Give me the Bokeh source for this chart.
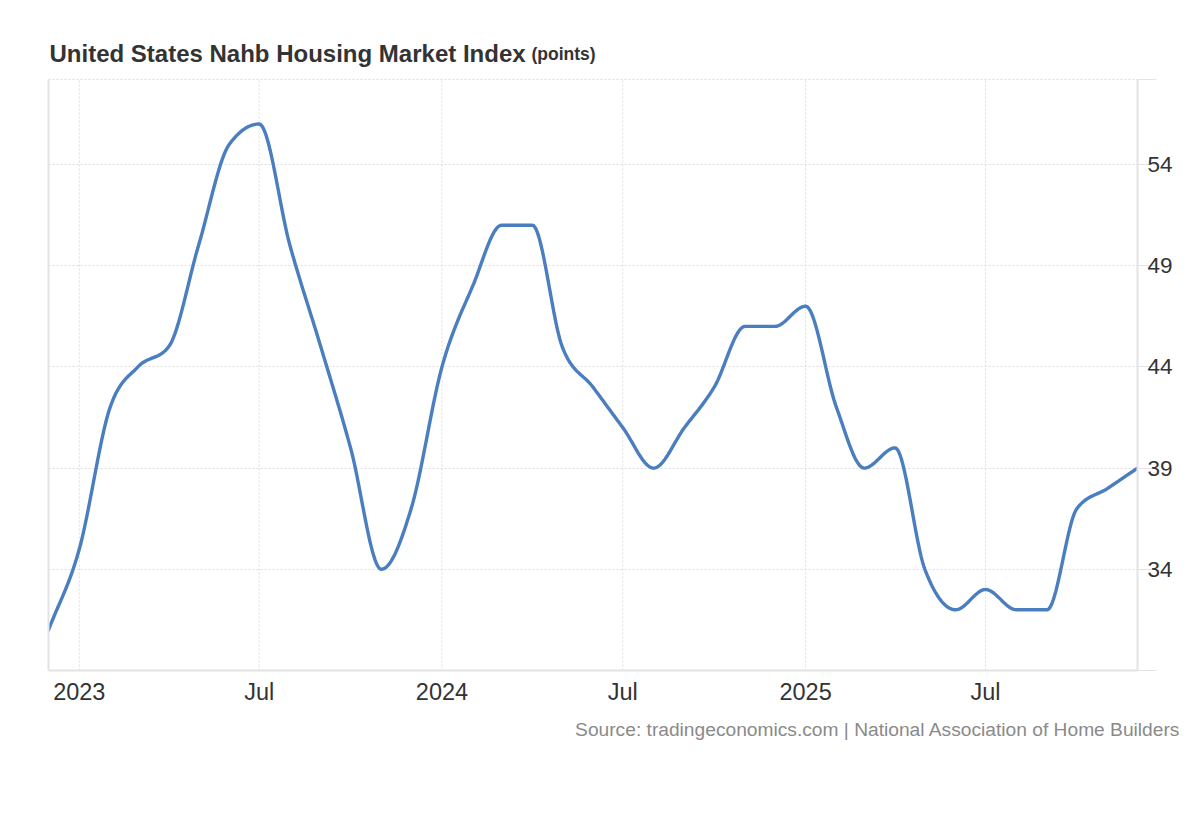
import numpy as np
import pandas as pd
from bokeh.plotting import figure
from bokeh.models import Range1d, LinearAxis, FixedTicker, Title, ColumnDataSource
from bokeh.core.properties import value
from bokeh.embed import file_html
from bokeh.resources import INLINE

# ---------------- data ----------------
months = ["2022-12", "2023-01", "2023-02", "2023-03", "2023-04", "2023-05", "2023-06",
          "2023-07", "2023-08", "2023-09", "2023-10", "2023-11", "2023-12",
          "2024-01", "2024-02", "2024-03", "2024-04", "2024-05", "2024-06",
          "2024-07", "2024-08", "2024-09", "2024-10", "2024-11", "2024-12",
          "2025-01", "2025-02", "2025-03", "2025-04", "2025-05", "2025-06",
          "2025-07", "2025-08", "2025-09", "2025-10", "2025-11", "2025-12"]
index_values = [31, 35, 42, 44, 45, 50, 55, 56, 50, 45, 40, 34, 37,
                44, 48, 51, 51, 45, 43, 41, 39, 41, 43, 46, 46,
                47, 42, 39, 40, 34, 32, 33, 32, 32, 37, 38, 39]
x_tick_dates = ["2023-01", "2023-07", "2024-01", "2024-07", "2025-01", "2025-07"]
x_tick_labels = ["2023", "Jul", "2024", "Jul", "2025", "Jul"]
y_tick_values = [34, 39, 44, 49, 54]
title_text = "United States Nahb Housing Market Index"
unit_text = "(points)"
source_text = "Source: tradingeconomics.com | National Association of Home Builders"

# ---------------- helpers ----------------
def to_ms(s):
    return float(pd.Timestamp(s + "-01").value // 10**6)

xs = np.array([to_ms(m) for m in months])
ys = np.array(index_values, dtype=float)

def monotone_path(x, y, n=24):
    """Smooth monotone (Steffen) cubic drawn through the data points."""
    h = np.diff(x)
    s = np.diff(y) / h
    m = np.zeros_like(y)
    for i in range(1, len(y) - 1):
        p = (s[i - 1] * h[i] + s[i] * h[i - 1]) / (h[i - 1] + h[i])
        m[i] = (np.sign(s[i - 1]) + np.sign(s[i])) * min(abs(s[i - 1]), abs(s[i]), 0.5 * abs(p))
    m[0] = s[0]
    m[-1] = s[-1]
    px, py = [], []
    for i in range(len(x) - 1):
        t = np.linspace(0, 1, n, endpoint=False)
        h00 = 2 * t**3 - 3 * t**2 + 1
        h10 = t**3 - 2 * t**2 + t
        h01 = -2 * t**3 + 3 * t**2
        h11 = t**3 - t**2
        px.extend(x[i] + t * h[i])
        py.extend(h00 * y[i] + h10 * h[i] * m[i] + h01 * y[i + 1] + h11 * h[i] * m[i + 1])
    px.append(x[-1]); py.append(y[-1])
    return px, py

cx, cy = monotone_path(xs, ys)

# ---------------- layout constants ----------------
FONT = "Liberation Sans"
GRID = "#dcdcdc"
AXIS = "#e3e3e3"
W, H = 1200, 770
LEFT, RIGHT, TOP, BOTTOM = 48, 63, 20, 100
frame_w = W - LEFT - RIGHT
frame_h = H - TOP - BOTTOM

y_bottom, y_plot_top = 29, 58.2          # value axis extent of the plot area
px_per_unit = 20.24
y_range_top = y_bottom + frame_h / px_per_unit   # extra room above for the title
x_start, x_end = to_ms("2022-12"), to_ms("2025-12")

def px_x(px):   # canvas px -> x data
    return x_start + (px - LEFT) / frame_w * (x_end - x_start)

def px_y(py):   # canvas px -> y data
    return y_bottom + (TOP + frame_h - py) / px_per_unit

# ---------------- figure ----------------
p = figure(width=W, height=H, x_axis_type="datetime", y_axis_location="right",
           output_backend="svg", toolbar_location=None,
           x_range=Range1d(x_start, x_end), y_range=Range1d(y_bottom, y_range_top))
p.min_border_left = LEFT
p.min_border_right = RIGHT
p.min_border_top = TOP
p.min_border_bottom = BOTTOM
p.outline_line_color = None
p.background_fill_color = "white"
p.border_fill_color = "white"

# x axis
xticks = [to_ms(d) for d in x_tick_dates]
xa = p.xaxis[0]
xa.ticker = FixedTicker(ticks=xticks)
xa.major_label_overrides = {t: lab for t, lab in zip(xticks, x_tick_labels)}
xa.major_tick_line_color = None
xa.minor_tick_line_color = None
xa.axis_line_color = AXIS
xa.axis_line_width = 2
xa.major_label_text_font = FONT
xa.major_label_text_font_size = "23.5px"
xa.major_label_text_color = "#333333"
xa.major_label_standoff = 2

# right y axis
ya = p.yaxis[0]
yticks = [y_bottom] + y_tick_values + [y_plot_top]
ya.ticker = FixedTicker(ticks=yticks)
ya.bounds = (y_bottom, y_plot_top)
ya.major_label_overrides = {y_bottom: "", y_plot_top: ""}
ya.major_tick_in = 0
ya.major_tick_out = 19
ya.major_tick_line_color = AXIS
ya.major_tick_line_width = 1
ya.minor_tick_line_color = None
ya.axis_line_color = AXIS
ya.axis_line_width = 2
ya.major_label_text_font = FONT
ya.major_label_text_font_size = "22.5px"
ya.major_label_text_color = "#333333"
ya.major_label_standoff = -9

# plain left axis line
la = LinearAxis(ticker=FixedTicker(ticks=[]), bounds=(y_bottom, y_plot_top),
                axis_line_color=AXIS, axis_line_width=2,
                major_tick_line_color=None, minor_tick_line_color=None,
                major_label_text_font_size="0px")
p.add_layout(la, "left")

# horizontal grid (dotted), vertical grid drawn only inside the plot area
yg = p.ygrid[0]
yg.grid_line_color = GRID
yg.grid_line_dash = "2 2"
yg.grid_line_width = 1
p.xgrid[0].visible = False
p.segment(x0=xticks, y0=[y_bottom] * len(xticks), x1=xticks, y1=[y_plot_top] * len(xticks),
          line_color=GRID, line_dash="2 2", line_width=1)

# line
src = ColumnDataSource(dict(x=cx, y=cy))
p.line("x", "y", source=src, line_color="#4a7ebe", line_width=3.4,
       line_join="round", line_cap="round")

# title + unit
p.text(x=[px_x(49)], y=[px_y(53)], text=[title_text], text_font=value(FONT),
       text_font_size="24px", text_font_style="bold", text_color="#333333",
       text_baseline="alphabetic", text_align="left")
p.text(x=[px_x(531)], y=[px_y(53)], text=[unit_text], text_font=value(FONT),
       text_font_size="17.5px", text_font_style="bold", text_color="#333333",
       text_baseline="alphabetic", text_align="left")

# source note
p.add_layout(Title(text=source_text, align="right", offset=-43, standoff=18,
                   text_font=FONT, text_font_size="19.2px", text_font_style="normal",
                   text_color="#8a8a8a"), "below")

open("out.html", "w").write(file_html(p, INLINE))
